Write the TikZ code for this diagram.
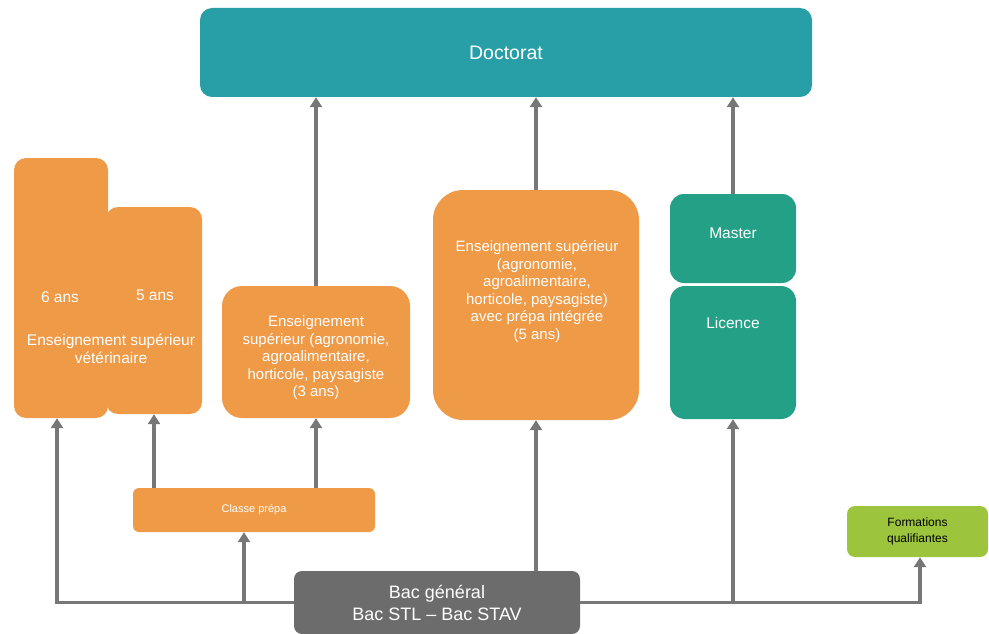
\documentclass[tikz,border=0pt]{standalone}
\usepackage{fontspec}
\setmainfont{Liberation Sans}
\usetikzlibrary{arrows.meta}
\definecolor{doctteal}{HTML}{289FA7}
\definecolor{masteal}{HTML}{23A085}
\definecolor{orangebox}{HTML}{EF9A47}
\definecolor{limebox}{HTML}{9CC43C}
\definecolor{bacgray}{HTML}{6C6C6C}
\definecolor{linkgray}{HTML}{777777}

\begin{document}
\begin{tikzpicture}[x=1pt, y=-1pt,
    box/.style={rectangle, inner sep=0pt, text=white, align=center},
    orange/.style={box, fill=orangebox},
    txt/.style={inner sep=0pt, text=white, align=center, font=\fontsize{15.5}{17.5}\selectfont},
    link/.style={draw=linkgray, line width=3.5pt, -{Triangle[length=10pt,width=12pt]}}]
    \useasboundingbox (0,0) rectangle (989,634);

    % top
    \node[box, fill=doctteal, rounded corners=12pt, minimum width=612pt, minimum height=89pt,
      font=\fontsize{19.5}{22}\selectfont] (doct) at (506,52.5) {Doctorat};

    % veterinaire, two blocks
    \node[orange, rounded corners=12pt, minimum width=94pt, minimum height=260pt] (vet6) at (61,288) {};
    \node[orange, rounded corners=12pt, minimum width=96pt, minimum height=207pt] (vet5) at (154,310.5) {};
    \path (60,297) node[txt] (ans6) {6 ans};
    \path (155,295) node[txt] (ans5) {5 ans};
    \path (111,349) node[txt] (vettxt) {Enseignement supérieur\\vétérinaire};

    \node[orange, rounded corners=20pt, minimum width=188pt, minimum height=132pt] (ens3) at (316,352) {};
    \path (316,358) node[txt, font=\fontsize{15}{17.5}\selectfont] (ens3txt)
      {Enseignement\\supérieur (agronomie,\\agroalimentaire,\\horticole, paysagiste\\(3 ans)};

    \node[orange, rounded corners=30pt, minimum width=206pt, minimum height=230pt] (ens5) at (536,305) {};
    \path (537,291.5) node[txt, font=\fontsize{15}{17.5}\selectfont] (ens5txt)
      {Enseignement supérieur\\(agronomie,\\agroalimentaire,\\horticole, paysagiste)\\avec prépa intégrée\\(5 ans)};

    % licence / master
    \node[box, fill=masteal, rounded corners=14pt, minimum width=126pt, minimum height=89pt] (master) at (733,238.5) {};
    \node[box, fill=masteal, rounded corners=15pt, minimum width=126pt, minimum height=133pt] (licence) at (733,352.5) {};
    \path (733,233) node[txt] (mastertxt) {Master};
    \path (733,323) node[txt] (licencetxt) {Licence};

    % bottom
    \node[orange, rounded corners=6pt, minimum width=242pt, minimum height=44pt,
      font=\fontsize{11}{13}\selectfont] (classe) at (254,510) {\raisebox{4pt}{Classe prépa}};
    \node[box, fill=limebox, text=black, rounded corners=8pt, minimum width=141pt, minimum height=51pt,
      font=\fontsize{12}{16}\selectfont] (form) at (917.5,531.5) {Formations\\qualifiantes};
    \node[box, fill=bacgray, rounded corners=8pt, minimum width=286pt, minimum height=63pt,
      font=\fontsize{18}{22}\selectfont] (bac) at (437,602.5) {Bac général\\Bac STL -- Bac STAV};

    % connectors
    \coordinate (split) at (244,602.5);
    \draw[link] (bac.west) -| ([xshift=-4pt]vet6.south);
    \draw[link] (split) -- (split |- classe.south);
    \draw[link] (vet5.south |- classe.north) -- (vet5.south);
    \draw[link] (ens3.south |- classe.north) -- (ens3.south);
    \draw[link] (ens5.south |- bac.north) -- (ens5.south);
    \draw[link] (bac.east) -| ([xshift=2.5pt]form.south);
    \draw[link] (licence.south |- bac.east) -- (licence.south);
    \foreach \n in {ens3, ens5, master}
    \draw[link] (\n.north) -- (\n.north |- doct.south);
\end{tikzpicture}
\end{document}
